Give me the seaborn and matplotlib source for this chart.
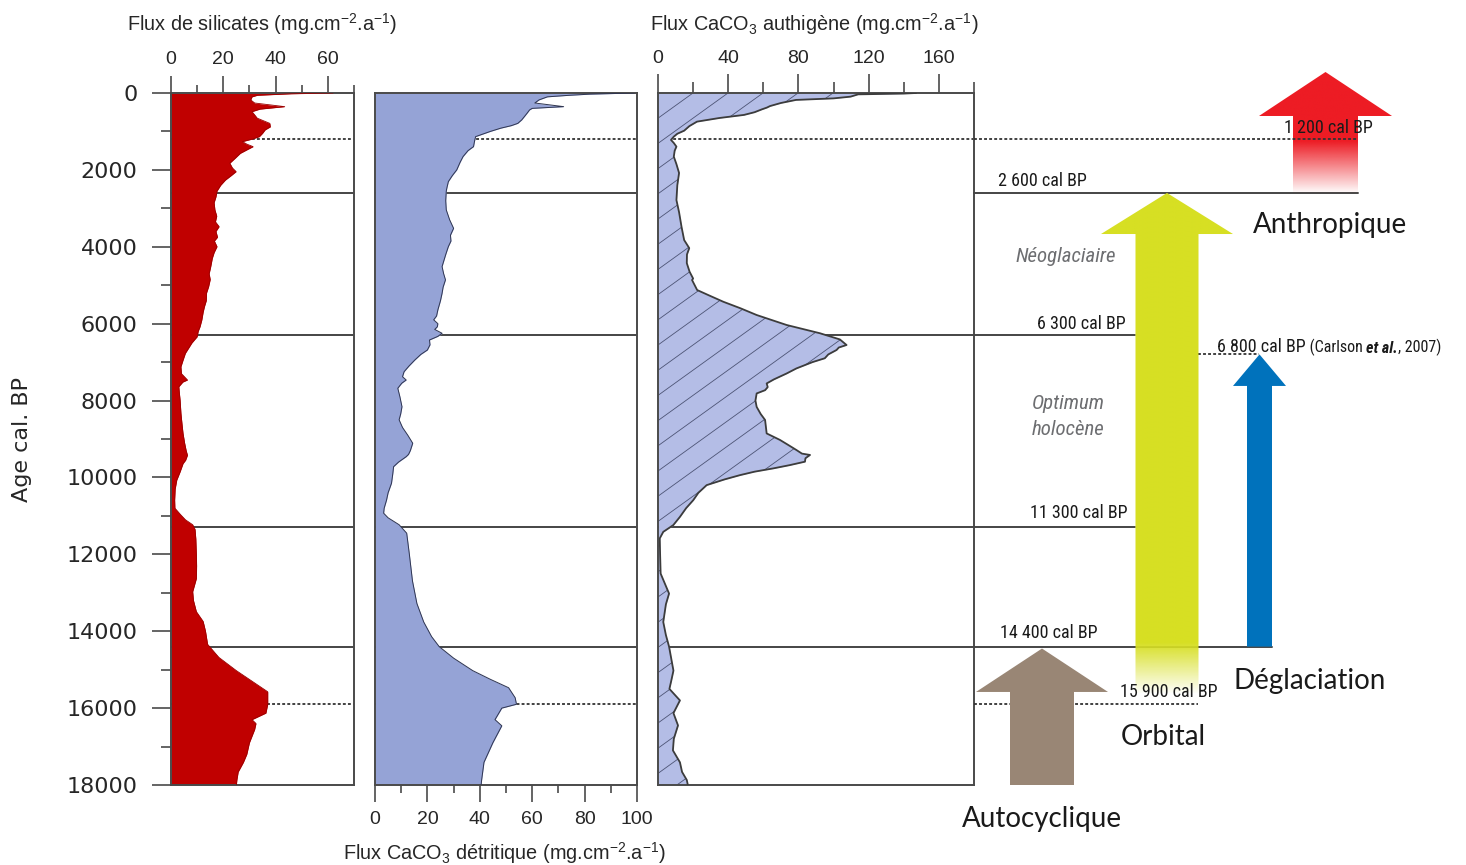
import numpy as np
import pandas as pd
import matplotlib
matplotlib.use("Agg")
import matplotlib.pyplot as plt
import seaborn as sns
from matplotlib import font_manager
from matplotlib.patches import Polygon
from matplotlib.collections import LineCollection
from matplotlib.ticker import FixedLocator
from matplotlib.colors import to_rgb

# ---------------- data ----------------
age_sil = [0, 20, 60, 100, 180, 260, 355, 420, 485, 570, 655, 790, 880, 960, 1050, 1135, 1200,
           1265, 1330, 1395, 1480, 1570, 1700, 1825, 1950, 2045, 2150, 2265, 2400, 2550, 2700,
           2850, 3040, 3200, 3350, 3475, 3600, 3750, 3850, 3995, 4150, 4300, 4515, 4700, 4850,
           5035, 5200, 5400, 5555, 5700, 5900, 6080, 6200, 6340, 6500, 6770, 6950, 7120, 7300,
           7465, 7520, 7640, 7800, 8000, 8330, 8600, 8850, 9100, 9300, 9420, 9550, 9640, 9850,
           10070, 10300, 10590, 10800, 10970, 11100, 11230, 11350, 11600, 11990, 12300, 12630,
           12970, 13200, 13490, 13745, 14000, 14340, 14680, 15025, 15300, 15575, 15790, 15900,
           16130, 16300, 16400, 16555, 16900, 17200, 17410, 17660, 17870, 18000]
flux_sil = [62, 46, 33, 31, 30.5, 32, 43.5, 34, 31, 32, 33, 37.8, 38, 36, 35, 33.8, 31,
            27.3, 29, 31.4, 29, 26.5, 24.5, 22.5, 23.5, 24.9, 23, 20.8, 19, 17.6, 17.2,
            16.5, 16.8, 17.5, 17, 18.4, 17.2, 17.8, 16.6, 17.6, 16.5, 15.8, 15.2, 14.6, 15,
            14.4, 13.6, 13.5, 12.8, 12.3, 11.8, 11.1, 10.4, 10, 8, 5.5, 4.6, 3.8, 4,
            6.3, 4.5, 3, 3.2, 3.5, 3.8, 4.2, 4.6, 5.2, 5.8, 6.3, 5.6, 4.6, 3.5,
            2.2, 1.6, 1.4, 1.5, 3.7, 5.5, 8.3, 9.2, 9.5, 9.7, 9.8, 9.7,
            8.3, 8.6, 9.7, 12.3, 13.2, 14, 18.3, 25, 31, 37, 37, 37,
            36.3, 31, 32.5, 32, 30, 29, 27.7, 25.7, 25.2, 25]

age_det = [0, 30, 60, 100, 180, 260, 355, 400, 440, 530, 615, 700, 790, 850, 915, 1000, 1135,
           1250, 1395, 1500, 1655, 1800, 2000, 2150, 2305, 2450, 2550, 2800, 3040, 3300, 3520,
           3700, 3850, 3995, 4200, 4515, 4700, 4860, 5050, 5210, 5400, 5640, 5800, 5900, 6000,
           6080, 6150, 6250, 6330, 6425, 6550, 6685, 6800, 6945, 7100, 7250, 7380, 7465, 7550,
           7680, 7900, 8160, 8350, 8500, 8700, 8900, 9110, 9300, 9400, 9460, 9600, 9720, 9900,
           10150, 10400, 10590, 10800, 10930, 11050, 11230, 11450, 11990, 12690, 13280, 13760,
           14140, 14400, 14700, 15025, 15250, 15470, 15730, 15900, 16000, 16300, 16460, 16900,
           17410, 17870, 18000]
flux_det = [99, 82, 74, 65.8, 62.6, 61, 72, 60, 59, 58, 57, 56, 54.5, 52, 48, 44, 38.4,
            38, 37.6, 35.5, 33.6, 32.5, 31.2, 29.5, 28, 27.5, 27.2, 27, 27.2, 28.5, 30,
            28.8, 29, 28, 27, 25.6, 26.2, 26.9, 26, 25.6, 25, 24, 23.5, 22.4, 24,
            23.8, 22.8, 25.6, 24, 20.8, 21, 20, 17.5, 15.2, 13, 11.1, 10.5, 11.9, 10.2,
            8.7, 9.5, 10.3, 9.8, 9.2, 10.5, 12.5, 14.4, 13.5, 12.8, 11.9, 9, 7.1, 6.8,
            6.3, 5, 4.4, 3.5, 3.3, 5, 9.2, 12.1, 13.1, 14.3, 16, 18.6,
            21.6, 24.5, 30, 37.3, 44, 51, 53.5, 54, 48.4, 45.8, 48.4, 45,
            41.6, 40.7, 40.5]

age_aut = [0, 15, 35, 95, 140, 180, 260, 340, 380, 425, 500, 570, 650, 745, 860, 980, 1060,
           1135, 1220, 1300, 1395, 1500, 1655, 1850, 2080, 2400, 2785, 3100, 3480, 3825, 4035,
           4200, 4425, 4650, 4825, 4865, 5125, 5255, 5430, 5600, 5775, 6035, 6250, 6410, 6555,
           6620, 6685, 6800, 6900, 7000, 7165, 7295, 7450, 7555, 7650, 7730, 7815, 8000, 8165,
           8350, 8505, 8700, 8855, 9025, 9150, 9285, 9380, 9415, 9500, 9590, 9680, 9765, 9850,
           9940, 10050, 10200, 10400, 10590, 10800, 11025, 11240, 11415, 11585, 12000, 12500,
           13020, 13300, 13760, 14100, 14400, 14700, 15025, 15300, 15500, 15800, 16130, 16450,
           16800, 17100, 17410, 17660, 17870, 18000]
flux_aut = [147, 140, 114, 109.7, 100, 78.6, 70, 63.8, 62, 59.2, 55, 49, 35, 22.2, 17.9, 14.9, 11,
            9, 7.4, 9, 10.5, 9.5, 9, 10.5, 12, 11, 10.5, 12, 13.4, 14.9, 17.8,
            16.5, 16.4, 18, 20, 19.4, 22.3, 28.6, 37.2, 47, 56.2, 73.3, 92.3, 103.6, 107.4,
            103, 101.7, 97, 95, 88, 78.8, 73.3, 66, 61.9, 62.5, 61, 56.2, 55.5, 56.2,
            58.5, 61, 61.5, 61.9, 69.5, 74, 78.8, 82, 86.6, 84, 83.7, 75, 65.6, 55,
            46.7, 38, 27.7, 23, 20.1, 16, 12.5, 8.7, 3, 1, 1.2, 1.5,
            6.3, 4.5, 3, 4.5, 6.3, 7.5, 8.8, 7.5, 6.5, 12.5, 8.8, 11.4,
            9, 8.5, 12.5, 13.7, 16.4, 17]

events_panels12 = [1200, 2600, 6300, 11300, 14400, 15900]
events_panel3 = [1200, 6300, 11300, 14400]
dotted_events = [1200, 6800, 15900]

sil_ticks = [0, 20, 40, 60]
det_ticks = [0, 20, 40, 60, 80, 100]
aut_ticks = [0, 40, 80, 120, 160]
age_ticks = list(range(0, 18001, 2000))

event_labels = {1200: "1 200 cal BP", 2600: "2 600 cal BP", 6300: "6 300 cal BP",
                6800: "6 800 cal BP", 11300: "11 300 cal BP", 14400: "14 400 cal BP",
                15900: "15 900 cal BP"}
forcing_labels = ["Anthropique", "Déglaciation", "Orbital", "Autocyclique"]
period_labels = ["Néoglaciaire", "Optimum", "holocène"]

# ---------------- style ----------------
sns.set_style("ticks")
plt.rcParams['font.family'] = ['Liberation Sans', 'DejaVu Sans']
plt.rcParams['mathtext.default'] = 'regular'

avail = {f.name for f in font_manager.fontManager.ttflist}
NARROW, NSCALE = 'Liberation Sans', 0.84
for cand in ['Liberation Sans Narrow', 'Arial Narrow', 'Roboto Condensed', 'Open Sans Condensed']:
    if cand in avail:
        NARROW, NSCALE = cand, 1.0
        break
BIG = 'Lato' if 'Lato' in avail else 'Open Sans'

W, H = 1466, 865
Y0, Y1 = 93, 785


def rect(x0, x1):
    return [x0 / W, 1 - Y1 / H, (x1 - x0) / W, (Y1 - Y0) / H]


fig = plt.figure(figsize=(W / 100, H / 100), dpi=100)
SPINE = '#4a4a4a'
LINE = '#454545'
DOT = (0, (1.6, 1.2))

ax1 = fig.add_axes(rect(171, 354))
ax2 = fig.add_axes(rect(375, 637))
ax3 = fig.add_axes(rect(658, 974))
axr = fig.add_axes(rect(974, 1466))


def style(ax, xmax):
    ax.set_ylim(18000, 0)
    ax.set_xlim(0, xmax)
    ax.grid(False)
    for s in ax.spines.values():
        s.set_visible(True)
        s.set_color(SPINE)
        s.set_linewidth(1.4)
    ax.set_xlabel('')
    ax.set_ylabel('')


def event_lines(ax, ages):
    for a in ages:
        if a in dotted_events:
            ax.axhline(a, color='#333333', lw=1.3, ls=DOT, zorder=1)
        else:
            ax.axhline(a, color=LINE, lw=1.4, zorder=1)


# ---- panel 1 : silicates ----
df1 = pd.DataFrame({'age': age_sil, 'flux': flux_sil})
ax1.fill_betweenx(df1['age'], 0, df1['flux'], color='#c00000', lw=0, zorder=2)
sns.lineplot(data=df1, x='flux', y='age', orient='y', estimator=None, sort=False,
             ax=ax1, color='#9a0000', lw=0.6, zorder=3)
event_lines(ax1, events_panels12)
style(ax1, 70)
ax1.xaxis.set_major_locator(FixedLocator(sil_ticks))
ax1.xaxis.set_minor_locator(FixedLocator([10, 30, 50, 70]))
ax1.tick_params(axis='x', which='both', top=True, bottom=False, labeltop=True,
                labelbottom=False, direction='out', color=SPINE, width=1.2)
ax1.tick_params(axis='x', which='major', length=12, pad=6, labelsize=14)
ax1.tick_params(axis='x', which='minor', length=6)
ax1.set_yticks(age_ticks)
ax1.set_yticklabels([str(a) for a in age_ticks], fontfamily='DejaVu Sans', fontsize=16)
ax1.yaxis.set_minor_locator(FixedLocator(list(range(1000, 18000, 2000))))
ax1.tick_params(axis='y', which='both', left=True, direction='out', color=SPINE, width=1.2)
ax1.tick_params(axis='y', which='major', length=14, pad=10)
ax1.tick_params(axis='y', which='minor', length=7)

# ---- panel 2 : CaCO3 detritique ----
df2 = pd.DataFrame({'age': age_det, 'flux': flux_det})
ax2.fill_betweenx(df2['age'], 0, df2['flux'], color='#95a3d6', lw=0, zorder=2)
sns.lineplot(data=df2, x='flux', y='age', orient='y', estimator=None, sort=False,
             ax=ax2, color='#2f3550', lw=0.7, zorder=3)
event_lines(ax2, events_panels12)
style(ax2, 100)
ax2.xaxis.set_major_locator(FixedLocator(det_ticks))
ax2.xaxis.set_minor_locator(FixedLocator([10, 30, 50, 70, 90]))
ax2.tick_params(axis='x', which='both', bottom=True, top=False, direction='out',
                color=SPINE, width=1.2)
ax2.tick_params(axis='x', which='major', length=12, pad=7, labelsize=14)
ax2.tick_params(axis='x', which='minor', length=6)
ax2.tick_params(axis='y', which='both', left=False, labelleft=False)

# ---- panel 3 : CaCO3 authigene ----
df3 = pd.DataFrame({'age': age_aut, 'flux': flux_aut})
poly3 = ax3.fill_betweenx(df3['age'], 0, df3['flux'], color='#b4bde6', lw=0, zorder=2)
sns.lineplot(data=df3, x='flux', y='age', orient='y', estimator=None, sort=False,
             ax=ax3, color='#3c3c3c', lw=1.3, zorder=3)
event_lines(ax3, events_panel3)
style(ax3, 180)
# diagonal hatching clipped to the filled area
AXW, AXH, SLOPE, STEP = 316.0, 692.0, 0.72, 35.0
segs = []
for c in np.arange(-AXH / SLOPE, AXW + STEP, STEP):
    segs.append([(c / AXW, 0.0), ((c + AXH / SLOPE) / AXW, 1.0)])
lc = LineCollection(segs, colors='#4d5475', linewidths=0.6, transform=ax3.transAxes, zorder=2.5)
ax3.add_collection(lc, autolim=False)
lc.set_clip_path(poly3.get_paths()[0], poly3.get_transform())
ax3.xaxis.set_major_locator(FixedLocator(aut_ticks))
ax3.xaxis.set_minor_locator(FixedLocator([20, 60, 100, 140, 180]))
ax3.tick_params(axis='x', which='both', top=True, bottom=False, labeltop=True,
                labelbottom=False, direction='out', color=SPINE, width=1.2)
ax3.tick_params(axis='x', which='major', length=14, pad=5, labelsize=14)
ax3.tick_params(axis='x', which='minor', length=8)
ax3.tick_params(axis='y', which='both', left=False, labelleft=False)

# ---- titles ----
fig.text(262 / W, 1 - 24 / H, r"Flux de silicates (mg.cm$^{-2}$.a$^{-1}$)",
         ha='center', va='center', fontsize=14.3)
fig.text(814 / W, 1 - 24 / H, r"Flux CaCO$_3$ authigène (mg.cm$^{-2}$.a$^{-1}$)",
         ha='center', va='center', fontsize=14.3)
fig.text(505 / W, 1 - 853 / H, r"Flux CaCO$_3$ détritique (mg.cm$^{-2}$.a$^{-1}$)",
         ha='center', va='center', fontsize=14.3)
fig.text(22 / W, 1 - 440 / H, "Age cal. BP", rotation=90, ha='center', va='center',
         fontsize=16, fontfamily='DejaVu Sans')

# ---------------- right-hand annotation area ----------------
axr.set_xlim(0, 492)
axr.set_ylim(18000, 0)
axr.axis('off')

# horizontal event lines: (age, x start, x end, zorder)
right_lines = [(1200, 0, 383, 6), (2600, 0, 384, 1), (6300, 0, 161, 1), (6800, 224, 285, 1),
               (11300, 0, 161, 1), (14400, 0, 298, 1), (15900, 0, 224, 1)]
for a, xa, xb, z in right_lines:
    if a in dotted_events:
        axr.plot([xa, xb], [a, a], color='#333333', lw=1.3, ls=DOT, zorder=z, clip_on=False)
    else:
        axr.plot([xa, xb], [a, a], color=LINE, lw=1.4, zorder=z, clip_on=False)


def arrow_verts(xc, hh, hs, tip, hb, bottom):
    return [(xc, tip), (xc + hh, hb), (xc + hs, hb), (xc + hs, bottom),
            (xc - hs, bottom), (xc - hs, hb), (xc - hh, hb)]


def solid_arrow(verts, color, z):
    p = Polygon(verts, closed=True, fc=color, ec='none', zorder=z, clip_on=False)
    axr.add_patch(p)


def fading_arrow(verts, color, fade_start, fade_end, z):
    p = Polygon(verts, closed=True, fc='none', ec='none', zorder=z, clip_on=False)
    axr.add_patch(p)
    xs = [v[0] for v in verts]
    ys = [v[1] for v in verts]
    top, bottom = min(ys), max(ys)
    n = 400
    aa = np.linspace(top, bottom, n)
    alpha = np.clip((fade_end - aa) / (fade_end - fade_start), 0, 1)
    img = np.zeros((n, 2, 4))
    img[..., :3] = to_rgb(color)
    img[..., 3] = alpha[:, None]
    im = axr.imshow(img, extent=(min(xs), max(xs), bottom, top), origin='upper',
                    aspect='auto', interpolation='bilinear', zorder=z)
    im.set_clip_path(p)
    im.set_clip_box(fig.bbox)


fading_arrow(arrow_verts(351.5, 66.5, 32.5, -546, 598, 2600), '#ed1c24', 1250, 2620, 3)
fading_arrow(arrow_verts(193, 66, 31.5, 2600, 3668, 15600), '#d7df23', 14300, 15650, 3)
solid_arrow(arrow_verts(285.5, 26.5, 12.5, 6800, 7620, 14400), '#0072bc', 3)
solid_arrow(arrow_verts(68, 66, 32, 14450, 15580, 18000), '#998675', 3)
axr.set_xlim(0, 492)
axr.set_ylim(18000, 0)

EV = 13 * NSCALE
# labels (x, age-baseline, ha)
ev_pos = {1200: (399, 1040, 'right'), 2600: (113, 2419, 'right'), 6300: (152, 6139, 'right'),
          11300: (153, 11055, 'right'), 14400: (123, 14177, 'right'),
          15900: (243, 15711, 'right')}
for a, (x, y, ha) in ev_pos.items():
    axr.text(x, y, event_labels[a], ha=ha, va='baseline', fontsize=EV, fontfamily=NARROW,
             color='#1a1a1a', zorder=7)

t1 = axr.text(243, 6737, event_labels[6800], ha='left', va='baseline', fontsize=EV,
              fontfamily=NARROW, color='#1a1a1a')
SM = 11.5 * NSCALE
t2 = axr.annotate(" (Carlson ", xy=(1, 0), xycoords=t1, ha='left', va='bottom',
                  fontsize=SM, fontfamily=NARROW, color='#1a1a1a')
t3 = axr.annotate("et al.", xy=(1, 0), xycoords=t2, ha='left', va='bottom',
                  fontsize=SM, fontfamily=NARROW, fontweight='bold', fontstyle='italic',
                  color='#1a1a1a')
t4 = axr.annotate(", 2007)", xy=(1, 0), xycoords=t3, ha='left', va='bottom',
                  fontsize=SM, fontfamily=NARROW, color='#1a1a1a')

big_pos = [(356, 3641), (336, 15502), (189, 16959), (68, 19092)]
for lab, (x, y) in zip(forcing_labels, big_pos):
    axr.text(x, y, lab, ha='center', va='baseline', fontsize=20, fontfamily=BIG,
             color='#1a1a1a', zorder=7)

period_pos = [(92, 4396), (94, 8219), (94, 8896)]
for lab, (x, y) in zip(period_labels, period_pos):
    axr.text(x, y, lab, ha='center', va='baseline', fontsize=15 * NSCALE,
             fontfamily=NARROW, fontstyle='italic', color='#6d6e71')

fig.savefig('out.png', dpi=100, facecolor='white')
